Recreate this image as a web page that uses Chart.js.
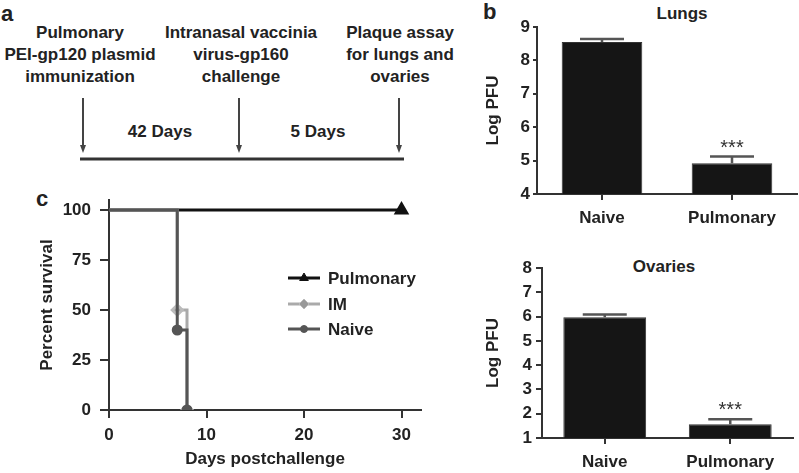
<!DOCTYPE html>
<html>
<head>
<meta charset="utf-8">
<script src="https://cdn.jsdelivr.net/npm/chart.js@4.4.1/dist/chart.umd.min.js"></script>
<style>
body { margin:0; background:#fff; width:799px; height:473px; position:relative; overflow:hidden;
  font-family:"Liberation Sans", Arial, sans-serif; font-weight:bold; color:#222; }
.abs { position:absolute; }
.col { position:absolute; top:22px; font-size:17px; line-height:22px; text-align:center; white-space:nowrap; transform:translateX(-50%); }
.letter { position:absolute; font-size:22px; line-height:22px; }
.ttl { position:absolute; font-size:17px; line-height:20px; white-space:nowrap; transform:translate(-50%,-50%); }
</style>
</head>
<body>

<!-- panel a : timeline -->
<div class="letter" style="left:1px;top:3px">a</div>
<div class="col" style="left:80px">Pulmonary<br>PEI-gp120 plasmid<br>immunization</div>
<div class="col" style="left:241px">Intranasal vaccinia<br>virus-gp160<br>challenge</div>
<div class="col" style="left:400px">Plaque assay<br>for lungs and<br>ovaries</div>
<svg class="abs" style="left:0;top:0" width="430" height="170">
  <g stroke="#444" stroke-width="2">
    <line x1="83" y1="98" x2="83" y2="148"/>
    <line x1="239" y1="98" x2="239" y2="148"/>
    <line x1="399" y1="98" x2="399" y2="148"/>
  </g>
  <g fill="#444">
    <path d="M80,145 L86,145 L83,153 Z"/>
    <path d="M236,145 L242,145 L239,153 Z"/>
    <path d="M396,145 L402,145 L399,153 Z"/>
  </g>
  <line x1="80" y1="159" x2="404" y2="159" stroke="#333" stroke-width="3"/>
</svg>
<div class="ttl" style="left:160px;top:132px">42 Days</div>
<div class="ttl" style="left:318px;top:132px">5 Days</div>

<!-- panel b -->
<div class="letter" style="left:483px;top:1px">b</div>
<div class="ttl" style="left:682px;top:14px">Lungs</div>
<div class="ttl" style="left:664px;top:267px">Ovaries</div>
<canvas id="lungs" class="abs" style="left:430px;top:0" width="369" height="240"></canvas>
<canvas id="ovaries" class="abs" style="left:430px;top:240px" width="369" height="233"></canvas>

<!-- panel c -->
<div class="letter" style="left:36px;top:188px">c</div>
<canvas id="survival" class="abs" style="left:0;top:170px" width="430" height="303"></canvas>

<script>
// bar panels
var groups = ['Naive', 'Pulmonary'];
var lungsMean = [8.55, 4.92];
var lungsErr = [0.09, 0.20];
var ovariesMean = [5.97, 1.57];
var ovariesErr = [0.12, 0.20];
var stars = ['', '***'];

// survival panel
var seriesNames = ['Pulmonary', 'IM', 'Naive'];
var pulmDays = [0, 30];
var pulmSurv = [100, 100];
var imDays = [0, 7, 8];
var imSurv = [100, 50, 0];
var naiveDays = [0, 7, 8];
var naiveSurv = [100, 40, 0];

Chart.defaults.font.family = "'Liberation Sans', Arial, sans-serif";
Chart.defaults.font.size = 17;
Chart.defaults.font.weight = 'bold';
Chart.defaults.color = '#222';

var errorBars = {
  id: 'errorBars',
  afterDatasetsDraw: function(chart) {
    var ctx = chart.ctx;
    var ds = chart.data.datasets[0];
    var y = chart.scales.y;
    ctx.save();
    chart.getDatasetMeta(0).data.forEach(function(bar, i) {
      var top = y.getPixelForValue(ds.data[i] + ds.err[i]);
      ctx.strokeStyle = '#555';
      ctx.lineWidth = 2.5;
      ctx.beginPath();
      ctx.moveTo(bar.x, bar.y);
      ctx.lineTo(bar.x, top);
      ctx.moveTo(bar.x - 22, top);
      ctx.lineTo(bar.x + 22, top);
      ctx.stroke();
      if (ds.stars[i]) {
        ctx.fillStyle = '#333';
        ctx.font = '20px "Liberation Sans", Arial, sans-serif';
        ctx.textAlign = 'center';
        ctx.textBaseline = 'alphabetic';
        ctx.fillText(ds.stars[i], bar.x, top - 3);
      }
    });
    ctx.restore();
  }
};

function makeBars(id, means, errs, min, max, o) {
  new Chart(document.getElementById(id), {
    type: 'bar',
    data: {
      labels: groups,
      datasets: [{
        data: means,
        err: errs,
        stars: stars,
        backgroundColor: '#151515',
        borderColor: '#333',
        borderWidth: 1,
        barPercentage: o.barPct,
        categoryPercentage: 1
      }]
    },
    options: {
      responsive: false,
      animation: false,
      layout: { padding: { top: o.top, right: o.right, left: 0, bottom: 0 } },
      plugins: { legend: { display: false }, tooltip: { enabled: false } },
      scales: {
        x: {
          ticks: { padding: 8 },
          grid: { offset: false, drawOnChartArea: false, tickLength: 6, color: '#333', lineWidth: 2 },
          border: { color: '#333', width: 2 },
          afterFit: function(s) { s.height = o.xH; }
        },
        y: {
          min: min, max: max,
          ticks: { stepSize: 1, padding: o.yPad },
          grid: { drawOnChartArea: false, tickLength: o.yTick, color: '#333', lineWidth: 2 },
          border: { color: '#333', width: 2 },
          title: { display: true, text: 'Log PFU', padding: { top: 53, bottom: 0 } },
          afterFit: function(s) { s.width = o.yW; }
        }
      }
    },
    plugins: [errorBars]
  });
}

makeBars('lungs', lungsMean, lungsErr, 4, 9, { top: 27, right: 2, xH: 46, yW: 107, yPad: 3, yTick: 4, barPct: 0.62 });
makeBars('ovaries', ovariesMean, ovariesErr, 1, 8, { top: 28, right: 6, xH: 35, yW: 112, yPad: 4, yTick: 6, barPct: 0.66 });

function pts(xs, ys) {
  return xs.map(function(x, i) { return { x: x, y: ys[i] }; });
}

// legend drawn inside the plot, line with marker in the middle
var survLegend = {
  id: 'survLegend',
  afterDraw: function(chart) {
    var ctx = chart.ctx;
    var rows = [108, 134, 159];
    seriesNames.forEach(function(name, k) {
      var ds = chart.data.datasets.find(function(d) { return d.label === name; });
      var yy = rows[k];
      ctx.save();
      ctx.strokeStyle = ds.borderColor;
      ctx.lineWidth = ds.borderWidth;
      ctx.beginPath();
      ctx.moveTo(288, yy);
      ctx.lineTo(320, yy);
      ctx.stroke();
      ctx.fillStyle = ds.pointBackgroundColor;
      ctx.strokeStyle = ds.pointBorderColor;
      ctx.lineWidth = 1;
      Chart.helpers.drawPoint(ctx, {
        pointStyle: ds.pointStyle, radius: ds.legendRadius, rotation: 0, borderWidth: 1
      }, 304, yy);
      ctx.fillStyle = '#222';
      ctx.font = 'bold 17px "Liberation Sans", Arial, sans-serif';
      ctx.textBaseline = 'middle';
      ctx.textAlign = 'left';
      ctx.fillText(name, 328, yy + 1);
      ctx.restore();
    });
  }
};

new Chart(document.getElementById('survival'), {
  type: 'line',
  data: {
    datasets: [{
      label: 'Pulmonary',
      data: pts(pulmDays, pulmSurv),
      borderColor: '#111', borderWidth: 3, stepped: 'before',
      pointStyle: 'triangle', pointRadius: [0, 6], legendRadius: 5,
      pointBackgroundColor: '#111', pointBorderColor: '#111',
      order: 2
    }, {
      label: 'IM',
      data: pts(imDays, imSurv),
      borderColor: '#aaa', borderWidth: 3, stepped: 'before',
      pointStyle: 'rectRot', pointRadius: [0, 5, 5], legendRadius: 5,
      pointBackgroundColor: '#999', pointBorderColor: '#bbb',
      order: 1
    }, {
      label: 'Naive',
      data: pts(naiveDays, naiveSurv),
      borderColor: '#555', borderWidth: 3, stepped: 'before',
      pointStyle: 'circle', pointRadius: [0, 4, 4], legendRadius: 3.5,
      pointBackgroundColor: '#555', pointBorderColor: '#555',
      order: 0
    }]
  },
  options: {
    responsive: false,
    animation: false,
    layout: { padding: { top: 30, right: 3, left: 0, bottom: 0 } },
    plugins: { legend: { display: false }, tooltip: { enabled: false } },
    scales: {
      x: {
        type: 'linear', min: 0, max: 32,
        ticks: { stepSize: 10, padding: 7, includeBounds: false },
        grid: { drawOnChartArea: false, tickLength: 8, color: '#333', lineWidth: 2 },
        border: { color: '#333', width: 2 },
        title: { display: true, text: 'Days postchallenge', padding: { top: 0, bottom: 3 } },
        afterFit: function(s) { s.height = 63; }
      },
      y: {
        min: 0, max: 105,
        ticks: { stepSize: 25, padding: 9, includeBounds: false },
        grid: { drawOnChartArea: false, tickLength: 9, color: '#333', lineWidth: 2 },
        border: { color: '#333', width: 2 },
        title: { display: true, text: 'Percent survival', padding: { top: 37, bottom: 0 } },
        afterFit: function(s) { s.width = 109; }
      }
    }
  },
  plugins: [survLegend]
});
</script>
</body>
</html>
